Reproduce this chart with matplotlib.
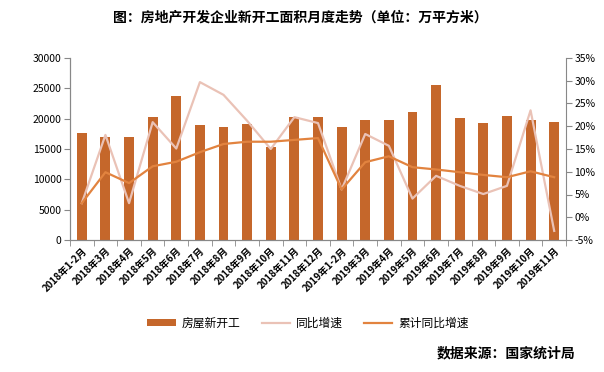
import numpy as np
import matplotlib.pyplot as plt
from matplotlib.ticker import FuncFormatter, FixedLocator

plt.rcParams['font.family'] = ['Noto Sans CJK SC', 'DejaVu Sans']
plt.rcParams['axes.unicode_minus'] = False

# data
months = ['2018年1-2月', '2018年3月', '2018年4月', '2018年5月', '2018年6月', '2018年7月',
          '2018年8月', '2018年9月', '2018年10月', '2018年11月', '2018年12月',
          '2019年1-2月', '2019年3月', '2019年4月', '2019年5月', '2019年6月', '2019年7月',
          '2019年8月', '2019年9月', '2019年10月', '2019年11月']
new_start = [17600, 16900, 17000, 20300, 23700, 18900, 18600, 19200, 15400, 20200, 20300,
             18600, 19800, 19800, 21100, 25600, 20100, 19300, 20400, 19800, 19500]
yoy = [3.1, 18.1, 3.1, 20.9, 15.1, 29.7, 26.9, 21.2, 15.0, 22.0, 20.7,
       6.1, 18.3, 15.7, 4.1, 9.1, 6.9, 5.1, 6.9, 23.5, -3.0]
cum_yoy = [3.1, 9.9, 7.5, 11.2, 12.2, 14.3, 16.1, 16.6, 16.6, 17.0, 17.4,
           6.1, 12.1, 13.4, 11.0, 10.5, 9.9, 9.3, 8.8, 10.1, 8.8]

BAR_C = '#C5672B'
YOY_C = '#EAC2B6'
CUM_C = '#E2833F'

fig = plt.figure(figsize=(6.04, 3.72), dpi=100)
ax = fig.add_axes([70/604, 1-240/372, 496/604, 182/372])
ax2 = ax.twinx()

x = np.arange(len(months))
b = ax.bar(x, new_start, width=0.42, color=BAR_C, zorder=2, label='房屋新开工')
l1, = ax2.plot(x, yoy, color=YOY_C, lw=1.6, label='同比增速')
l2, = ax2.plot(x, cum_yoy, color=CUM_C, lw=1.6, label='累计同比增速')

ax.set_xlim(-0.5, len(months)-0.5)
ax.set_ylim(0, 30000)
ax.set_yticks(range(0, 30001, 5000))
ax2.set_ylim(-5, 35)
ax2.set_yticks(range(-5, 36, 5))
ax2.yaxis.set_major_formatter(FuncFormatter(lambda v, p: f'{v:.0f}%'))

ax.set_xticks(x)
ax.set_xticklabels(months, rotation=45, ha='right', rotation_mode='anchor',
                   fontsize=7, fontweight='bold')
ax.xaxis.set_minor_locator(FixedLocator(np.arange(-0.5, len(months), 1)))
ax.tick_params(axis='x', which='major', length=0, pad=4)
ax.tick_params(axis='x', which='minor', length=4, color='#888888', direction='out')
ax.tick_params(axis='y', labelsize=7.5, length=4, color='#888888', pad=2)
ax2.tick_params(axis='y', labelsize=7.5, length=4, color='#888888', pad=2)

for a in (ax, ax2):
    a.spines['top'].set_visible(False)
    for s in ('left', 'right', 'bottom'):
        a.spines[s].set_color('#888888')
        a.spines[s].set_linewidth(0.8)
ax.spines['right'].set_visible(False)

fig.legend([b, l1, l2], ['房屋新开工', '同比增速', '累计同比增速'],
           loc='center', bbox_to_anchor=(308/604, 1-323/372), ncol=3, frameon=False,
           fontsize=8.5, handlelength=2.4, handleheight=0.5, columnspacing=1.8,
           handletextpad=0.5)

fig.text(300/604, 1-18/372, '图：房地产开发企业新开工面积月度走势（单位：万平方米）',
         ha='center', va='center', fontsize=10, fontweight='bold')
fig.text(575/604, 1-353/372, '数据来源：国家统计局', ha='right', va='center',
         fontsize=10, fontweight='bold')

fig.savefig('out.png', dpi=100)
